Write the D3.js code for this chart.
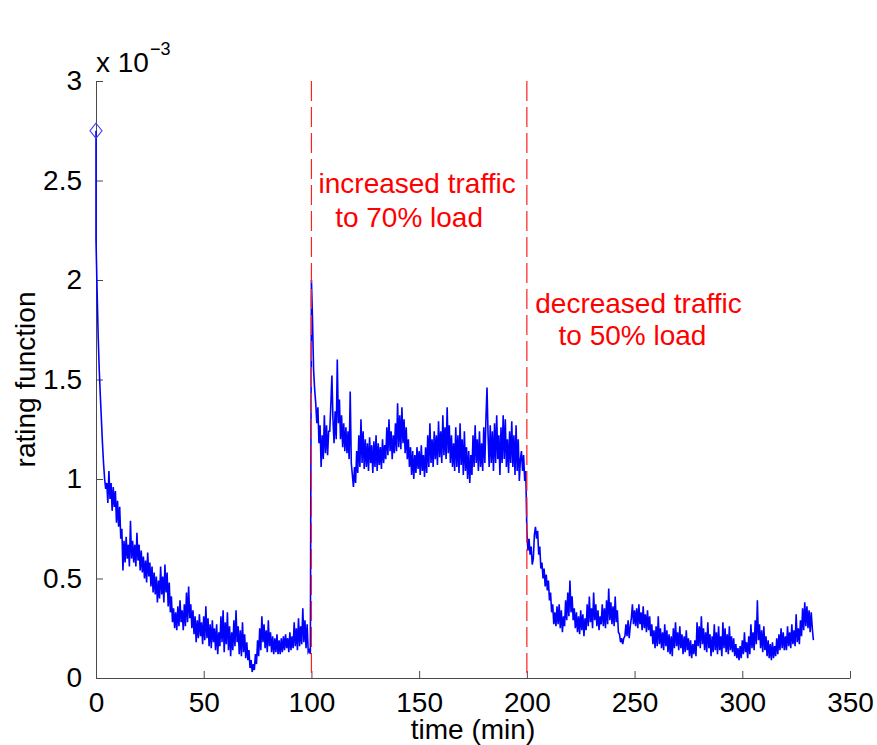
<!DOCTYPE html>
<html>
<head>
<meta charset="utf-8">
<script src="https://cdn.jsdelivr.net/npm/d3@7/dist/d3.min.js"></script>
<style>
  html, body { margin: 0; padding: 0; background: #fff; }
  svg { display: block; font-family: "Liberation Sans", Arial, Helvetica, sans-serif; }
</style>
</head>
<body>
<svg id="chart" width="877" height="745"></svg>
<script>
// Rating function (in units of 10^-3) sampled every half minute.
const sampleStep = 0.5;

// Initial estimate at t = 0, shown with a diamond marker
const initialValue = 2.75;

// Phase 1: 0 - 99.5 min (baseline load)
const phase1Start = 0;
const phase1 = [
  2.20,1.95,1.72,1.55,1.42,1.30,1.18,1.08,1.00,0.95,
  0.98,0.88,1.04,0.90,0.98,0.84,0.96,0.86,0.94,0.78,
  0.89,0.76,0.86,0.70,0.75,0.54,0.69,0.58,0.71,0.60,
  0.67,0.56,0.79,0.60,0.69,0.58,0.67,0.56,0.73,0.59,
  0.67,0.54,0.64,0.53,0.61,0.50,0.59,0.48,0.63,0.51,
  0.58,0.46,0.56,0.43,0.53,0.42,0.51,0.38,0.49,0.40,
  0.56,0.42,0.51,0.38,0.57,0.43,0.53,0.36,0.48,0.33,
  0.41,0.28,0.35,0.25,0.33,0.24,0.36,0.26,0.39,0.28,
  0.34,0.24,0.37,0.26,0.43,0.28,0.46,0.30,0.37,0.25,
  0.34,0.22,0.31,0.18,0.29,0.20,0.32,0.21,0.28,0.17,
  0.31,0.19,0.36,0.20,0.30,0.16,0.27,0.15,0.29,0.18,
  0.25,0.14,0.27,0.12,0.23,0.16,0.31,0.18,0.34,0.13,
  0.28,0.17,0.33,0.14,0.26,0.11,0.23,0.14,0.29,0.16,
  0.34,0.18,0.26,0.12,0.24,0.11,0.28,0.13,0.22,0.10,
  0.18,0.09,0.14,0.05,0.09,0.03,0.07,0.04,0.12,0.07,
  0.19,0.11,0.25,0.14,0.31,0.18,0.27,0.15,0.24,0.13,
  0.29,0.16,0.23,0.13,0.21,0.12,0.20,0.13,0.22,0.12,
  0.19,0.12,0.20,0.13,0.21,0.14,0.22,0.15,0.20,0.13,
  0.23,0.14,0.21,0.15,0.28,0.16,0.25,0.14,0.30,0.16,
  0.26,0.17,0.35,0.18,0.29,0.15,0.27,0.13,0.14,0.12
];

// Phase 2: 100 - 199.5 min (traffic raised to 70% load)
const phase2Start = 100;
const phase2 = [
  2.00,1.80,1.55,1.45,1.38,1.28,1.36,1.18,1.27,1.06,
  1.22,1.10,1.32,1.13,1.27,1.12,1.24,1.24,1.37,1.52,
  1.30,1.18,1.34,1.20,1.60,1.28,1.40,1.20,1.32,1.16,
  1.28,1.14,1.26,1.13,1.24,1.10,1.44,1.08,1.02,0.96,
  1.06,0.98,1.14,1.03,1.22,1.06,1.30,1.08,1.24,1.05,
  1.20,1.06,1.18,1.04,1.21,1.08,1.17,1.03,1.19,1.06,
  1.22,1.04,1.18,1.07,1.16,1.05,1.20,1.08,1.17,1.10,
  1.26,1.12,1.30,1.14,1.24,1.10,1.22,1.13,1.28,1.14,
  1.38,1.16,1.32,1.15,1.36,1.18,1.30,1.13,1.26,1.10,
  1.20,1.06,1.16,1.02,1.14,1.00,1.12,1.03,1.16,1.05,
  1.14,1.02,1.17,1.04,1.12,1.01,1.16,1.03,1.22,1.06,
  1.28,1.08,1.20,1.06,1.24,1.10,1.22,1.07,1.29,1.11,
  1.24,1.08,1.32,1.12,1.26,1.10,1.36,1.13,1.27,1.08,
  1.22,1.06,1.18,1.04,1.26,1.06,1.22,1.03,1.28,1.07,
  1.20,1.02,1.24,1.04,1.16,1.00,1.14,0.98,1.12,1.02,
  1.22,1.06,1.27,1.08,1.20,1.04,1.24,1.06,1.18,1.04,
  1.26,1.08,1.30,1.46,1.22,1.06,1.27,1.08,1.24,1.04,
  1.28,1.08,1.32,1.10,1.22,1.02,1.26,1.08,1.32,1.10,
  1.30,1.06,1.20,1.03,1.24,1.08,1.29,1.06,1.22,1.02,
  1.27,1.04,1.20,0.99,1.10,1.14,1.04,1.12,0.99,1.04
];

// Phase 3: 200 - 333 min (traffic lowered to 50% load)
const phase3Start = 200;
const phase3 = [
  0.74,0.64,0.70,0.62,0.66,0.57,0.60,0.72,0.76,0.70,
  0.74,0.62,0.66,0.55,0.58,0.50,0.55,0.46,0.52,0.44,
  0.49,0.39,0.43,0.33,0.37,0.27,0.33,0.26,0.36,0.27,
  0.37,0.25,0.34,0.23,0.31,0.26,0.39,0.29,0.43,0.31,
  0.49,0.33,0.41,0.29,0.35,0.25,0.33,0.23,0.31,0.22,
  0.34,0.24,0.32,0.21,0.30,0.24,0.37,0.26,0.41,0.28,
  0.35,0.25,0.43,0.29,0.37,0.26,0.34,0.24,0.31,0.27,
  0.37,0.26,0.35,0.25,0.39,0.27,0.45,0.29,0.38,0.27,
  0.36,0.26,0.41,0.28,0.34,0.23,0.22,0.18,0.20,0.17,
  0.20,0.21,0.27,0.21,0.29,0.20,0.26,0.30,0.37,0.27,
  0.34,0.26,0.35,0.25,0.37,0.27,0.33,0.24,0.36,0.25,
  0.32,0.23,0.34,0.24,0.31,0.21,0.27,0.17,0.24,0.15,
  0.26,0.16,0.31,0.17,0.25,0.15,0.23,0.14,0.27,0.16,
  0.24,0.13,0.22,0.12,0.21,0.11,0.25,0.15,0.28,0.16,
  0.23,0.14,0.26,0.15,0.22,0.12,0.21,0.13,0.24,0.14,
  0.20,0.11,0.19,0.10,0.17,0.12,0.19,0.11,0.28,0.16,
  0.26,0.15,0.31,0.17,0.25,0.14,0.23,0.13,0.28,0.15,
  0.22,0.11,0.21,0.13,0.27,0.14,0.23,0.12,0.26,0.14,
  0.21,0.11,0.28,0.15,0.25,0.13,0.22,0.12,0.26,0.14,
  0.21,0.13,0.20,0.11,0.17,0.10,0.15,0.09,0.16,0.10,
  0.19,0.12,0.23,0.13,0.18,0.10,0.21,0.12,0.27,0.15,
  0.23,0.14,0.29,0.17,0.39,0.19,0.27,0.15,0.24,0.13,
  0.26,0.14,0.21,0.11,0.19,0.10,0.17,0.09,0.18,0.10,
  0.16,0.11,0.20,0.12,0.22,0.14,0.25,0.15,0.23,0.14,
  0.21,0.14,0.26,0.16,0.23,0.15,0.27,0.17,0.24,0.16,
  0.32,0.18,0.25,0.17,0.29,0.21,0.35,0.24,0.38,0.26,
  0.36,0.25,0.34,0.23,0.33,0.25,0.19
];

// Load change events (min) and their captions
const eventTimes = [100, 200];
const eventCaptions = [
  ["increased traffic", "to 70% load"],
  ["decreased traffic", "to 50% load"]
];

// Axis ticks
const xTicks = [0, 50, 100, 150, 200, 250, 300, 350];
const yTicks = [0, 0.5, 1, 1.5, 2, 2.5, 3];
const yTickLabels = ["0", "0.5", "1", "1.5", "2", "2.5", "3"];

// ---------------------------------------------------------------
const svg = d3.select("#chart");
const margin = { left: 96, right: 27, top: 81, bottom: 67 };
const W = 877, H = 745;

const x = d3.scaleLinear().domain([0, 350]).range([margin.left, W - margin.right]);
const y = d3.scaleLinear().domain([0, 3]).range([H - margin.bottom, margin.top]);

// assemble time series
const series = [{ t: 0, v: initialValue }];
[[phase1Start, phase1], [phase2Start, phase2], [phase3Start, phase3]].forEach(([t0, vals]) => {
  vals.forEach((v, i) => series.push({ t: t0 + i * sampleStep, v }));
});

const axisColor = "#4a4a4a";
const fontSize = 28;

// axes (inward ticks, no box)
const xAxis = d3.axisBottom(x).tickValues(xTicks).tickSizeInner(-7).tickSizeOuter(0).tickPadding(14);
const gx = svg.append("g").attr("transform", `translate(0,${y(0)})`).call(xAxis);
gx.select(".domain").attr("stroke", axisColor);
gx.selectAll(".tick line").attr("stroke", axisColor);
gx.selectAll(".tick text").attr("fill", "#000").attr("font-size", fontSize)
  .attr("font-family", "Liberation Sans, Arial, sans-serif").attr("dy", "0.71em");

const yAxis = d3.axisLeft(y).tickValues(yTicks).tickFormat((d, i) => yTickLabels[i])
  .tickSizeInner(-7).tickSizeOuter(0).tickPadding(14);
const gy = svg.append("g").attr("transform", `translate(${x(0)},0)`).call(yAxis);
gy.select(".domain").attr("stroke", axisColor);
gy.selectAll(".tick line").attr("stroke", axisColor);
gy.selectAll(".tick text").attr("fill", "#000").attr("font-size", fontSize)
  .attr("font-family", "Liberation Sans, Arial, sans-serif");

// the rating function trace
const line = d3.line().x(d => x(d.t)).y(d => y(d.v));
svg.append("path")
  .datum(series)
  .attr("d", line)
  .attr("fill", "none")
  .attr("stroke", "#0000ff")
  .attr("stroke-width", 1.6)
  .attr("stroke-linejoin", "miter");

// diamond marker at the initial estimate (half-width 6, half-height 7.5)
const diamond = d3.path();
diamond.moveTo(0, -7.5); diamond.lineTo(6, 0); diamond.lineTo(0, 7.5); diamond.lineTo(-6, 0); diamond.closePath();
svg.append("path")
  .attr("d", diamond.toString())
  .attr("transform", `translate(${x(0)},${y(initialValue)})`)
  .attr("fill", "none")
  .attr("stroke", "#3b3bff")
  .attr("stroke-width", 1.1);

// dashed event markers
svg.selectAll("line.event")
  .data(eventTimes)
  .join("line")
  .attr("class", "event")
  .attr("x1", d => x(d)).attr("x2", d => x(d))
  .attr("y1", y(3)).attr("y2", y(0))
  .attr("stroke", "#ff2020")
  .attr("stroke-width", 1.2)
  .attr("stroke-dasharray", "20,6");

// event captions
const captionPos = [
  [{ t: 103.3, v: 2.435 }, { t: 111.0, v: 2.268 }],
  [{ t: 203.9, v: 1.836 }, { t: 214.7, v: 1.673 }]
];
eventCaptions.forEach((lines, i) => {
  lines.forEach((txt, j) => {
    svg.append("text")
      .attr("x", x(captionPos[i][j].t))
      .attr("y", y(captionPos[i][j].v))
      .attr("fill", "#ff0000")
      .attr("font-size", fontSize)
      .text(txt);
  });
});

// axis titles
svg.append("text")
  .attr("x", (x(0) + x(350)) / 2)
  .attr("y", 739)
  .attr("text-anchor", "middle")
  .attr("font-size", fontSize)
  .attr("fill", "#000")
  .text("time (min)");

svg.append("text")
  .attr("transform", `translate(35,${(y(0) + y(3)) / 2}) rotate(-90)`)
  .attr("text-anchor", "middle")
  .attr("font-size", fontSize)
  .attr("fill", "#000")
  .text("rating function");

// scale factor note
const expo = svg.append("text")
  .attr("x", x(0))
  .attr("y", 72)
  .attr("font-size", fontSize)
  .attr("fill", "#000");
expo.append("tspan").text("x 10");
expo.append("tspan").attr("dy", -17).attr("dx", 1).attr("font-size", 18).text("\u22123");
</script>
</body>
</html>
